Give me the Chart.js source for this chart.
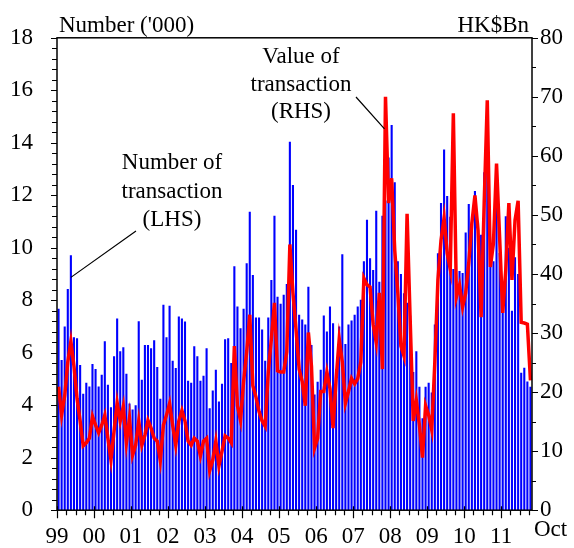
<!DOCTYPE html>
<html>
<head>
<meta charset="utf-8">
<script src="https://cdn.jsdelivr.net/npm/chart.js@4.4.0/dist/chart.umd.min.js"></script>
<style>
  html, body { margin: 0; padding: 0; background: #ffffff; }
</style>
</head>
<body>
<canvas id="myChart" width="574" height="548"></canvas>
<script>
// monthly, Jan 1999 .. Oct 2011
const year_labels = ["99", "00", "01", "02", "03", "04", "05", "06", "07", "08", "09", "10", "11"];
const month_names = ["Jan", "Feb", "Mar", "Apr", "May", "Jun", "Jul", "Aug", "Sep", "Oct", "Nov", "Dec"];
const last_month_label = "Oct";

// Number of transaction ('000), LHS
const number_of_transaction = [
  7.68, 5.72, 7.0, 8.43, 9.71, 6.59, 6.55, 5.53, 4.44, 4.86, 4.71, 5.57,
  5.38, 4.71, 5.16, 6.44, 4.78, 3.92, 5.87, 7.3, 6.06, 6.21, 5.2, 4.07,
  3.84, 4.0, 7.2, 4.97, 6.29, 6.29, 6.17, 6.48, 5.46, 4.25, 7.83, 6.59,
  7.79, 5.69, 5.42, 7.38, 7.3, 7.19, 4.93, 4.86, 6.25, 5.87, 4.93, 5.12,
  6.17, 3.88, 4.56, 5.35, 4.14, 4.82, 6.51, 6.55, 5.61, 9.3, 7.76, 6.93,
  7.68, 9.41, 11.37, 8.96, 7.34, 7.34, 6.89, 5.69, 7.34, 8.77, 11.22, 8.13,
  7.87, 8.21, 8.62, 14.04, 12.39, 10.69, 7.45, 7.27, 7.08, 8.51, 6.29, 4.41,
  4.89, 5.35, 7.42, 6.81, 7.76, 7.12, 5.38, 7.0, 9.75, 6.33, 7.08, 7.23,
  7.45, 7.76, 8.02, 9.49, 11.07, 9.6, 9.15, 11.41, 8.7, 11.22, 11.8, 13.44,
  14.68, 12.5, 9.49, 9.0, 8.27, 7.9, 7.42, 5.27, 6.06, 4.7, 3.5, 4.7,
  4.86, 4.48, 7.08, 9.79, 11.71, 13.74, 11.97, 11.18, 9.19, 8.47, 9.11, 9.04,
  10.58, 11.67, 10.96, 12.16, 10.96, 10.5, 12.88, 13.2, 9.53, 9.49, 11.6, 9.8,
  7.6, 11.2, 10.0, 7.6, 9.64, 9.0, 5.24, 5.43, 4.9, 4.7,
];

// Value of transaction (HK$Bn), RHS
const value_of_transaction = [
  20.9, 16.1, 19.4, 25.1, 28.6, 24.4, 18.9, 15.1, 10.9, 11.4, 12.2, 15.9,
  14.4, 13.1, 14.4, 16.1, 12.2, 8.5, 13.4, 18.2, 15.1, 17.6, 11.4, 15.6,
  9.3, 11.0, 15.1, 11.0, 12.7, 15.2, 13.9, 12.2, 11.7, 8.4, 14.4, 16.1,
  18.1, 14.4, 11.0, 15.1, 16.9, 15.1, 11.7, 11.0, 12.2, 11.7, 9.2, 11.7,
  12.2, 6.7, 8.5, 11.7, 7.5, 10.0, 12.6, 12.2, 11.4, 27.8, 17.7, 15.2,
  21.8, 26.8, 33.1, 21.1, 19.2, 16.7, 15.1, 14.2, 23.4, 29.0, 35.1, 23.6,
  23.4, 23.4, 26.8, 45.0, 36.8, 30.6, 23.9, 21.8, 17.7, 30.1, 24.4, 10.5,
  12.2, 20.1, 20.1, 23.4, 20.6, 13.9, 22.3, 29.0, 25.1, 18.1, 20.1, 22.3,
  21.4, 22.3, 25.1, 39.3, 38.2, 37.8, 31.5, 28.4, 36.8, 23.9, 70.0, 52.0,
  56.2, 44.0, 36.8, 27.8, 26.1, 50.2, 32.3, 15.1, 18.6, 14.4, 8.9, 17.7,
  16.1, 13.6, 25.1, 39.0, 45.7, 49.5, 43.5, 40.8, 67.2, 36.1, 38.1, 34.4,
  36.8, 41.9, 48.6, 53.3, 47.4, 32.7, 52.0, 69.4, 41.2, 45.2, 58.7, 46.2,
  33.4, 40.7, 52.0, 39.0, 49.1, 52.4, 31.8, 31.7, 31.5, 22.0,
];

const month_labels = [];
number_of_transaction.forEach((v, i) => {
  month_labels.push(month_names[i % 12] + " " + year_labels[Math.floor(i / 12)]);
});

const serif = "'Liberation Serif', 'Times New Roman', serif";
const font_size = 23;

// frame, tick marks, axis titles and call-out labels
const decorations = {
  id: "decorations",
  afterDraw(chart) {
    const ctx = chart.ctx;
    const area = chart.chartArea;
    const xs = chart.scales.x;
    const ys = chart.scales.y;
    const ys2 = chart.scales.y2;
    const slot = (area.right - area.left) / number_of_transaction.length;

    ctx.save();
    ctx.strokeStyle = "#000";
    ctx.lineWidth = 1.5;
    ctx.strokeRect(area.left, area.top, area.right - area.left, area.bottom - area.top);

    ctx.lineWidth = 1.2;
    ctx.beginPath();
    // left axis ticks, outward
    for (let v = 0; v <= 18.001; v += 0.4) {
      let py = Math.round(ys.getPixelForValue(v)) + 0.5;
      let major = Math.abs(v / 2 - Math.round(v / 2)) < 0.01;
      ctx.moveTo(area.left, py);
      ctx.lineTo(area.left - (major ? 6 : 5), py);
    }
    // right axis ticks, outward
    for (let v = 0; v <= 80.001; v += 5) {
      let py = Math.round(ys2.getPixelForValue(v)) + 0.5;
      ctx.moveTo(area.right, py);
      ctx.lineTo(area.right + (v % 10 === 0 ? 6 : 4), py);
    }
    // bottom ticks: years and quarters
    for (let i = 0; i < number_of_transaction.length; i += 3) {
      let px = Math.round(xs.getPixelForValue(i) - slot / 2) + 0.5;
      let major = i % 12 === 0;
      ctx.moveTo(px, area.bottom - (major ? 4 : 0));
      ctx.lineTo(px, area.bottom + (major ? 8 : 5));
    }
    ctx.stroke();

    ctx.fillStyle = "#000";
    ctx.font = font_size + "px " + serif;
    ctx.textBaseline = "alphabetic";
    ctx.textAlign = "left";
    ctx.fillText("Number ('000)", area.left + 2, 32);
    ctx.textAlign = "right";
    ctx.fillText("HK$Bn", area.right - 3, 32);
    ctx.textAlign = "left";
    ctx.fillText(last_month_label, area.right + 2, 536);

    ctx.textAlign = "center";
    ctx.textBaseline = "middle";
    ["Number of", "transaction", "(LHS)"].forEach((t, k) => {
      ctx.fillText(t, 172, 163 + k * 28.5);
    });
    ["Value of", "transaction", "(RHS)"].forEach((t, k) => {
      ctx.fillText(t, 301, 57 + k * 27.5);
    });

    // leader lines
    ctx.lineWidth = 1.2;
    ctx.beginPath();
    ctx.moveTo(136, 231);
    ctx.lineTo(xs.getPixelForValue(4), ys.getPixelForValue(number_of_transaction[4]) + 22);
    ctx.moveTo(356, 97);
    ctx.lineTo(xs.getPixelForValue(106) - 1, ys2.getPixelForValue(value_of_transaction[106]) + 32);
    ctx.stroke();
    ctx.restore();
  },
};

const ctx = document.getElementById("myChart").getContext("2d");

const myChart = new Chart(ctx, {
  type: "bar",
  data: {
    labels: month_labels,
    datasets: [
      {
        type: "line",
        label: "Value of transaction (RHS)",
        data: value_of_transaction,
        yAxisID: "y2",
        borderColor: "#ff0000",
        borderWidth: 3.5,
        pointRadius: 0,
        tension: 0,
        fill: false,
        order: 1,
      },
      {
        label: "Number of transaction (LHS)",
        data: number_of_transaction,
        yAxisID: "y",
        backgroundColor: "#0000ff",
        borderWidth: 0,
        barPercentage: 0.68,
        categoryPercentage: 1.0,
        order: 2,
      },
    ],
  },
  options: {
    responsive: false,
    animation: false,
    devicePixelRatio: 1,
    layout: { padding: { top: 37, left: 0, right: 0, bottom: 0 } },
    plugins: {
      legend: { display: false },
      tooltip: { enabled: false },
    },
    scales: {
      x: {
        grid: { display: false, drawTicks: false },
        border: { display: false },
        ticks: {
          autoSkip: false,
          maxRotation: 0,
          minRotation: 0,
          padding: 13,
          labelOffset: -1.5,
          color: "#000",
          font: { family: serif, size: font_size },
          callback: (val, index) => (index % 12 === 0 ? year_labels[index / 12] : ""),
        },
        afterFit: (scale) => {
          scale.height = 37;
        },
      },
      y: {
        position: "left",
        min: 0,
        max: 18,
        grid: { display: false, drawTicks: false },
        border: { display: false },
        ticks: {
          stepSize: 2,
          padding: 24,
          color: "#000",
          font: { family: serif, size: font_size },
        },
        afterFit: (scale) => {
          scale.width = 57;
        },
      },
      y2: {
        position: "right",
        min: 0,
        max: 80,
        grid: { display: false, drawTicks: false },
        border: { display: false },
        ticks: {
          stepSize: 10,
          padding: 8,
          color: "#000",
          font: { family: serif, size: font_size },
        },
        afterFit: (scale) => {
          scale.width = 42;
        },
      },
    },
  },
  plugins: [decorations],
});
</script>
</body>
</html>
